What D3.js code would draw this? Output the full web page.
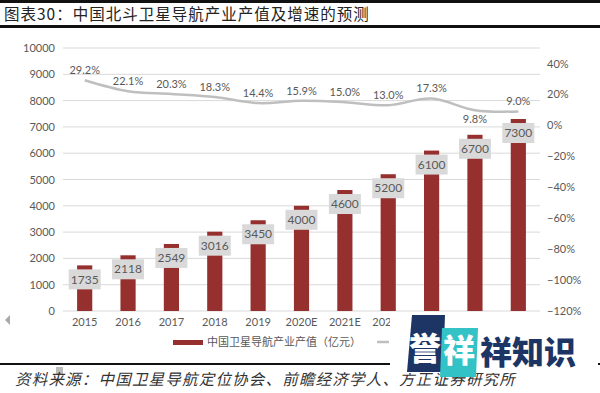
<!DOCTYPE html>
<html>
<head>
<meta charset="utf-8">
<script src="https://cdn.jsdelivr.net/npm/d3@7"></script>
<style>
  body { margin: 0; background: #fff; }
  svg { display: block; font-family: "Noto Sans CJK SC", "Noto Sans", sans-serif; }
  .tick text { fill: #595959; font-size: 11px; font-family: Lato, "Noto Sans", sans-serif; }
</style>
</head>
<body>
<svg width="600" height="393"></svg>
<script>
const years = ['2015', '2016', '2017', '2018', '2019', '2020E', '2021E', '2022E', '2023E', '2024E', '2025E'];
const output = [1735, 2118, 2549, 3016, 3450, 4000, 4600, 5200, 6100, 6700, 7300];
const growth = [0.292, 0.221, 0.203, 0.183, 0.144, 0.159, 0.150, 0.130, 0.173, 0.098, 0.090];
const leftTicks = [0, 1000, 2000, 3000, 4000, 5000, 6000, 7000, 8000, 9000, 10000];
const rightTicks = [-1.2, -1.0, -0.8, -0.6, -0.4, -0.2, 0, 0.2, 0.4];
const labelsBelow = ['2024E'];

const svg = d3.select('svg');
const barColor = '#96302e';
const lineColor = '#bfbfbf';

// title + rules
svg.append('rect').attr('x', 0).attr('y', 0).attr('width', 600).attr('height', 3).attr('fill', '#111');
svg.append('rect').attr('x', 0).attr('y', 25).attr('width', 600).attr('height', 3).attr('fill', '#111');
svg.append('text')
  .attr('x', 4).attr('y', 20)
  .attr('font-size', 15.5).attr('fill', '#222')
  .attr('letter-spacing', 1)
  .text('图表30：中国北斗卫星导航产业产值及增速的预测');

const plotL = 63, plotR = 540, plotT = 48, plotB = 311;

const x = d3.scaleBand().domain(years).range([plotL, plotR]).paddingInner(0.65).paddingOuter(0.325);
const y = d3.scaleLinear().domain([0, 10000]).range([plotB, plotT]);
const y2 = d3.scaleLinear().domain([-1.2, 0.5]).range([plotB, plotT]);

// gridlines
svg.append('g')
  .selectAll('line')
  .data(leftTicks)
  .enter()
  .append('line')
  .attr('x1', plotL).attr('x2', plotR)
  .attr('y1', d => y(d)).attr('y2', d => y(d))
  .attr('stroke', '#d9d9d9').attr('stroke-width', 1);

// left axis
svg.append('g')
  .attr('transform', `translate(${plotL - 4},0)`)
  .call(d3.axisLeft(y).tickValues(leftTicks).tickSize(0).tickPadding(4).tickFormat(d3.format('d')))
  .call(g => g.select('.domain').remove());

// right axis
svg.append('g')
  .attr('transform', `translate(${plotR + 4},0)`)
  .call(d3.axisRight(y2).tickValues(rightTicks).tickSize(0).tickPadding(3).tickFormat(d3.format('.0%')))
  .call(g => g.select('.domain').remove());

// x axis
svg.append('g')
  .attr('transform', `translate(0,${plotB + 4})`)
  .call(d3.axisBottom(x).tickSize(0).tickPadding(3))
  .call(g => g.select('.domain').remove());

// bars
svg.append('g')
  .selectAll('rect')
  .data(output)
  .enter()
  .append('rect')
  .attr('x', (d, i) => x(years[i]))
  .attr('y', d => y(d))
  .attr('width', x.bandwidth())
  .attr('height', d => plotB - y(d))
  .attr('fill', barColor);

// bar labels
const barLabels = svg.append('g')
  .selectAll('g')
  .data(output)
  .enter()
  .append('g')
  .attr('transform', (d, i) => `translate(${x(years[i]) + x.bandwidth() / 2},${y(d) + 14})`);
barLabels.append('rect')
  .attr('x', -16).attr('y', -10).attr('width', 32).attr('height', 20)
  .attr('fill', '#d9d9d9');
barLabels.append('text')
  .attr('text-anchor', 'middle').attr('dy', '0.35em')
  .attr('font-size', 12).attr('fill', '#595959')
  .attr('font-family', 'Lato, "Noto Sans", sans-serif')
  .text(d => d);

// growth line
const line = d3.line()
  .x((d, i) => x(years[i]) + x.bandwidth() / 2)
  .y(d => y2(d))
  .curve(d3.curveCatmullRom);
svg.append('path')
  .datum(growth)
  .attr('d', line)
  .attr('fill', 'none')
  .attr('stroke', lineColor)
  .attr('stroke-width', 2.5);

svg.append('g')
  .selectAll('text')
  .data(growth)
  .enter()
  .append('text')
  .attr('x', (d, i) => x(years[i]) + x.bandwidth() / 2)
  .attr('y', (d, i) => labelsBelow.includes(years[i]) ? y2(d) + 9 : y2(d) - 10)
  .attr('dy', '0.35em')
  .attr('text-anchor', 'middle')
  .attr('font-size', 11).attr('fill', '#595959')
  .attr('font-family', 'Lato, "Noto Sans", sans-serif')
  .text(d => d3.format('.1%')(d));

// legend (second entry's text sits under the watermark in the original)
svg.append('rect').attr('x', 173).attr('y', 340).attr('width', 30).attr('height', 5).attr('fill', barColor);
svg.append('text').attr('x', 207).attr('y', 346).attr('font-size', 11).attr('fill', '#595959')
  .text('中国卫星导航产业产值（亿元）');
svg.append('line').attr('x1', 377).attr('x2', 389).attr('y1', 342).attr('y2', 342)
  .attr('stroke', lineColor).attr('stroke-width', 2.5);

// little scroll marks
svg.append('path').attr('d', 'M5,320 L10,315 L10,325 Z').attr('fill', '#aaa');
svg.append('rect').attr('x', 56).attr('y', 367).attr('width', 7).attr('height', 8).attr('fill', '#bbb');

// source
svg.append('rect').attr('x', 0).attr('y', 363).attr('width', 600).attr('height', 2).attr('fill', '#111');
svg.append('text')
  .attr('x', 15).attr('y', 385)
  .attr('font-size', 15.5).attr('fill', '#333')
  .attr('font-style', 'italic')
  .attr('letter-spacing', 1.2)
  .text('资料来源：中国卫星导航定位协会、前瞻经济学人、方正证券研究所');

// watermark overlay
const wm = svg.append('g');
wm.append('rect').attr('x', 390).attr('y', 318).attr('width', 208).attr('height', 55).attr('fill', '#fff');
wm.append('path').attr('d', 'M412,315 L445,315 L443,372 L407,372 Z').attr('fill', '#1c3565');
wm.append('path').attr('d', 'M442,328 L478,328 L476,377 L440,377 Z').attr('fill', '#33c2c6');
wm.append('text').attr('x', 425).attr('y', 360).attr('text-anchor', 'middle')
  .attr('font-size', 32).attr('font-weight', 900).attr('fill', '#fff').text('誉');
wm.append('text').attr('x', 459).attr('y', 362).attr('text-anchor', 'middle')
  .attr('font-size', 32).attr('font-weight', 900).attr('fill', '#fff').text('祥');
wm.append('text').attr('x', 480).attr('y', 364)
  .attr('font-size', 32).attr('font-weight', 900).attr('fill', '#1c3565').text('祥知识');
</script>
</body>
</html>
